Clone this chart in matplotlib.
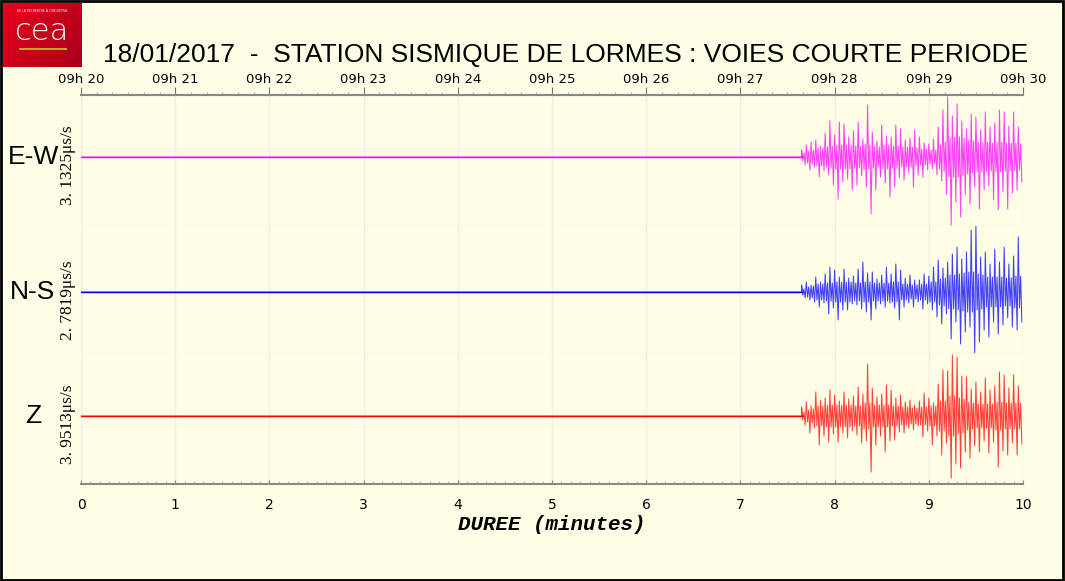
import numpy as np
import matplotlib.pyplot as plt
from matplotlib.ticker import MultipleLocator

# peak amplitudes (pixel-like units) of each trace, every 0.05 min from 7.65 min
# "up" = positive peak, "low" = negative peak
t0 = 7.65
step = 0.05

ew_up = [7, 12, 15, 17, 11, 24, 36,
         22, 35, 33, 20, 26, 35, 18, 52, 25, 16, 32, 21, 20, 32, 28, 17, 19, 27, 20, 14,
         13, 18, 30, 47, 60, 41, 53, 36, 28, 43, 40, 27, 45, 30, 34, 47, 45, 31, 45, 30]
ew_low = [8, 13, 10, 20, 14, 18, 28,
          42, 25, 22, 33, 28, 19, 30, 57, 33, 20, 26, 40, 30, 21, 23, 16, 30, 18, 20, 13,
          12, 18, 24, 37, 68, 45, 60, 38, 47, 30, 52, 33, 29, 43, 53, 35, 52, 36, 33, 25]

ns_up = [7, 10, 7, 15, 10, 18, 25,
         22, 15, 23, 14, 16, 23, 30, 19, 20, 13, 17, 25, 18, 28, 22, 14, 17, 12, 12, 18,
         16, 25, 32, 24, 30, 38, 45, 33, 40, 62, 66, 35, 40, 28, 43, 30, 45, 28, 36, 55]
ns_low = [6, 8, 10, 15, 11, 22, 16,
          28, 18, 18, 12, 13, 17, 20, 28, 17, 12, 15, 11, 16, 28, 15, 11, 15, 10, 17, 12,
          18, 25, 32, 22, 47, 30, 52, 40, 35, 62, 50, 38, 45, 30, 42, 33, 26, 35, 38, 30]

z_up = [9, 14, 10, 24, 16, 18, 26,
        21, 15, 24, 17, 20, 29, 22, 52, 28, 19, 22, 31, 26, 18, 21, 14, 16, 11, 15, 23,
        18, 13, 32, 46, 45, 61, 59, 40, 39, 27, 34, 24, 38, 26, 30, 44, 41, 28, 41, 30]
z_low = [9, 17, 12, 29, 20, 26, 18,
         26, 17, 22, 15, 19, 27, 25, 56, 29, 20, 36, 25, 24, 16, 17, 12, 14, 10, 21, 15,
         29, 20, 39, 27, 62, 48, 52, 36, 42, 30, 36, 25, 37, 26, 51, 35, 39, 27, 39, 28]

# half-width of the dense core of each trace, every 0.05 min from 7.65 min
ew_core = [4, 6, 7, 9, 9, 10, 11, 12, 12, 12, 12, 11, 11, 13, 12, 11, 10, 12, 12, 11, 11, 10,
           10, 10, 9, 8, 8, 7, 7, 12, 15, 20, 20, 20, 19, 17, 16, 15, 15, 15, 14, 15, 15, 14, 14, 14, 13]
ns_core = [3, 5, 6, 8, 8, 9, 9, 10, 10, 10, 10, 9, 9, 10, 10, 9, 9, 9, 9, 10, 10, 8, 8, 7,
           7, 8, 8, 10, 10, 13, 14, 17, 17, 18, 19, 20, 20, 18, 17, 15, 15, 15, 15, 14, 14, 16, 16]
z_core = [4, 6, 7, 10, 10, 11, 11, 11, 11, 11, 11, 10, 10, 13, 13, 11, 11, 11, 11, 10, 10, 9,
          9, 8, 8, 9, 9, 10, 10, 15, 15, 20, 20, 18, 17, 14, 13, 12, 12, 12, 12, 14, 14, 13, 13, 13, 13]

channels = ["E-W", "N-S", "Z"]
scales = ["3. 1325\u03bcs/s", "2. 7819\u03bcs/s", "3. 9513\u03bcs/s"]
colors = ["#ff00ff", "#0000ff", "#ff0000"]
ups = [ew_up, ns_up, z_up]
lows = [ew_low, ns_low, z_low]
cores = [ew_core, ns_core, z_core]
minutes = list(range(11))
hours = ["09h %d" % (20 + m) for m in minutes]

W, H = 1065, 581
bg = "#fefee6"
fig = plt.figure(figsize=(W / 100, H / 100), dpi=100, facecolor=bg)


def fx(x):
    return x / W


def fy(y):
    return 1 - y / H


# panel geometry in pixels: top, bottom, zero line
panels = [(95, 226, 157), (226, 353, 292), (353, 484, 416)]
grid_c = "#f0f0e0"

for i, (top, bot, zero) in enumerate(panels):
    ax = fig.add_axes([fx(81), fy(bot), (1023 - 81) / W, (bot - top) / H])
    ax.set_facecolor("none")
    ax.set_xlim(0, 10)
    ax.set_ylim(-(bot - zero), zero - top)
    ax.set_yticks([])
    for s in ax.spines.values():
        s.set_visible(False)
    ax.set_xticks(minutes)
    ax.grid(axis="x", color=grid_c, lw=1)
    ax.axhline(ax.get_ylim()[0], color=grid_c, lw=1)

    # waveform: flat before onset, then peak / core / core / peak in each 0.05 min
    n = len(ups[i])
    tb = t0 + step * np.arange(n)
    core = np.array(cores[i])
    t = np.column_stack([tb, tb + step / 4, tb + step / 2, tb + 3 * step / 4]).ravel()
    v = np.column_stack([ups[i], -core, core, -np.array(lows[i])]).ravel()
    t = np.concatenate([[0, t0], t])
    v = np.concatenate([[0, 0], v])
    ax.plot(t, v, color=colors[i], lw=0.75, alpha=0.75)
    ax.plot([0, t0], [0, 0], color=colors[i], lw=1.0)

    if i == 0:
        ax.xaxis.tick_top()
        ax.spines["top"].set_visible(True)
        ax.spines["top"].set_color("#888888")
        ax.spines["top"].set_linewidth(1.5)
        ax.set_xticklabels(hours, fontsize=9.5)
        ax.xaxis.set_minor_locator(MultipleLocator(1 / 6))
        ax.tick_params(which="major", direction="out", length=5.5, color="#777777", pad=1)
        ax.tick_params(which="minor", direction="out", length=2.5, color="#999999")
    elif i == 2:
        ax.spines["bottom"].set_visible(True)
        ax.spines["bottom"].set_color("#888888")
        ax.spines["bottom"].set_linewidth(1.5)
        ax.set_xticklabels([str(m) for m in minutes], fontsize=10)
        ax.xaxis.set_minor_locator(MultipleLocator(0.1))
        ax.tick_params(which="major", direction="in", length=3, color="#888888", pad=10)
        ax.tick_params(which="minor", direction="in", length=2, color="#aaaaaa")
        ax.set_xlabel("DUREE (minutes)", family="Liberation Mono", fontweight="bold",
                      style="italic", fontsize=15, labelpad=2)
    else:
        ax.tick_params(length=0, labelbottom=False)

    fig.text(fx(33), fy(zero), channels[i], fontsize=19, ha="center", va="center",
             family="Liberation Sans")
    fig.text(fx(68), fy(zero + 8), scales[i], rotation=90, fontsize=12.5, ha="center",
             va="center", family="Liberation Serif")

fig.text(fx(566), fy(55), "18/01/2017  -  STATION SISMIQUE DE LORMES : VOIES COURTE PERIODE",
         fontsize=19, ha="center", va="center", family="Liberation Sans")

# logo
lax = fig.add_axes([fx(3), fy(67), 79 / W, 64 / H])
grad = np.linspace(0, 1, 64)[None, :] + np.linspace(0, 0.6, 40)[:, None]
lax.imshow(grad, cmap=plt.cm.colors.LinearSegmentedColormap.from_list(
    "cea", ["#e8001c", "#a8001a"]), aspect="auto", extent=[0, 1, 0, 1])
lax.set_axis_off()
lax.text(0.5, 0.55, "cea", color="white", fontsize=22, ha="center", va="center",
         family="DejaVu Sans", fontweight="light")
lax.text(0.5, 0.87, "DE LA RECHERCHE \u00c0 L'INDUSTRIE", color="white", fontsize=2.2,
         ha="center", va="center")
lax.plot([0.22, 0.8], [0.28, 0.28], color="#b8a830", lw=1.5)
lax.set_xlim(0, 1)
lax.set_ylim(0, 1)

# outer frame
fig.patches.append(plt.Rectangle((0.001, 0.001), 0.997, 0.997, transform=fig.transFigure,
                                 fill=False, ec="black", lw=2))

fig.savefig("out.png", dpi=100, facecolor=bg)
